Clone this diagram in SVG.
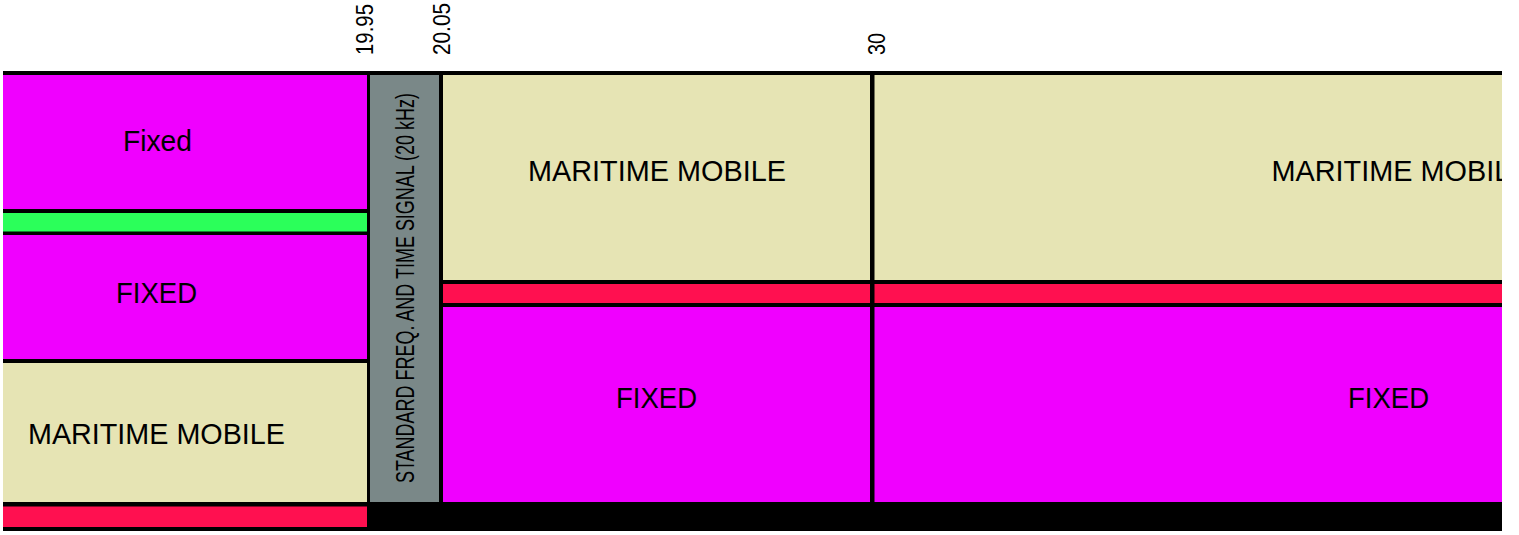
<svg xmlns="http://www.w3.org/2000/svg" width="1519" height="535" viewBox="0 0 1519 535">
<style>
.mag{fill:#f000ff}
.grn{fill:#2bff5a}
.red{fill:#ff1050}
.crm{fill:#e6e4b4}
.gry{fill:#7a8888}
.lbl{font-family:"Liberation Sans",Arial,sans-serif;font-size:29px;fill:#000}
.vt{font-family:"Liberation Sans",Arial,sans-serif;font-size:25px;fill:#000}
.tick{font-family:"Liberation Sans",Arial,sans-serif;font-size:24px;fill:#000}
</style>
<rect width="1519" height="535" fill="#ffffff"/>
<g id="frame">
<rect x="3" y="71" width="1499" height="460" fill="#000000"/>
</g>
<g id="connectors"></g>
<g id="left-fixed-lower">
<rect class="mag" x="3" y="75" width="364" height="134"/>
<text class="lbl" x="123" y="151" textLength="69" lengthAdjust="spacingAndGlyphs">Fixed</text>
</g>
<g id="left-green">
<rect class="grn" x="3" y="213" width="364" height="18.5"/>
</g>
<g id="left-fixed">
<rect class="mag" x="3" y="235" width="364" height="124"/>
<text class="lbl" x="116" y="303" textLength="81" lengthAdjust="spacingAndGlyphs">FIXED</text>
</g>
<g id="left-maritime">
<rect class="crm" x="3" y="363" width="364" height="139"/>
<text class="lbl" x="28" y="444" textLength="257" lengthAdjust="spacingAndGlyphs">MARITIME MOBILE</text>
</g>
<g id="left-red">
<rect class="red" x="3" y="506.5" width="364" height="20.5"/>
</g>
<g id="standard-freq">
<rect class="gry" x="370" y="75" width="69" height="427"/>
<text class="vt" transform="translate(414,483) rotate(-90)" x="0" y="0" textLength="390" lengthAdjust="spacingAndGlyphs">STANDARD FREQ. AND TIME SIGNAL (20 kHz)</text>
</g>
<g id="mid-maritime">
<rect class="crm" x="443" y="75" width="427" height="205"/>
<text class="lbl" x="528" y="181" textLength="258" lengthAdjust="spacingAndGlyphs">MARITIME MOBILE</text>
</g>
<g id="mid-red">
<rect class="red" x="443" y="284" width="427" height="19"/>
</g>
<g id="mid-fixed">
<rect class="mag" x="443" y="307" width="427" height="195"/>
<text class="lbl" x="616" y="408" textLength="81" lengthAdjust="spacingAndGlyphs">FIXED</text>
</g>
<g id="right-maritime">
<rect class="crm" x="874.5" y="75" width="627.5" height="205"/>
<svg x="874.5" y="75" width="627.5" height="205" overflow="hidden">
<text class="lbl" x="397" y="106" textLength="258" lengthAdjust="spacingAndGlyphs">MARITIME MOBILE</text>
</svg>
</g>
<g id="right-red">
<rect class="red" x="874.5" y="284" width="627.5" height="19"/>
</g>
<g id="right-fixed">
<rect class="mag" x="874.5" y="307" width="627.5" height="195"/>
<text class="lbl" x="1348" y="408" textLength="81" lengthAdjust="spacingAndGlyphs">FIXED</text>
</g>
<g id="ticks">
<text class="tick" transform="translate(373,55) rotate(-90)" textLength="51" lengthAdjust="spacingAndGlyphs">19.95</text>
<text class="tick" transform="translate(450,55) rotate(-90)" textLength="52" lengthAdjust="spacingAndGlyphs">20.05</text>
<text class="tick" transform="translate(885,55) rotate(-90)" textLength="22" lengthAdjust="spacingAndGlyphs">30</text>
</g>
</svg>
